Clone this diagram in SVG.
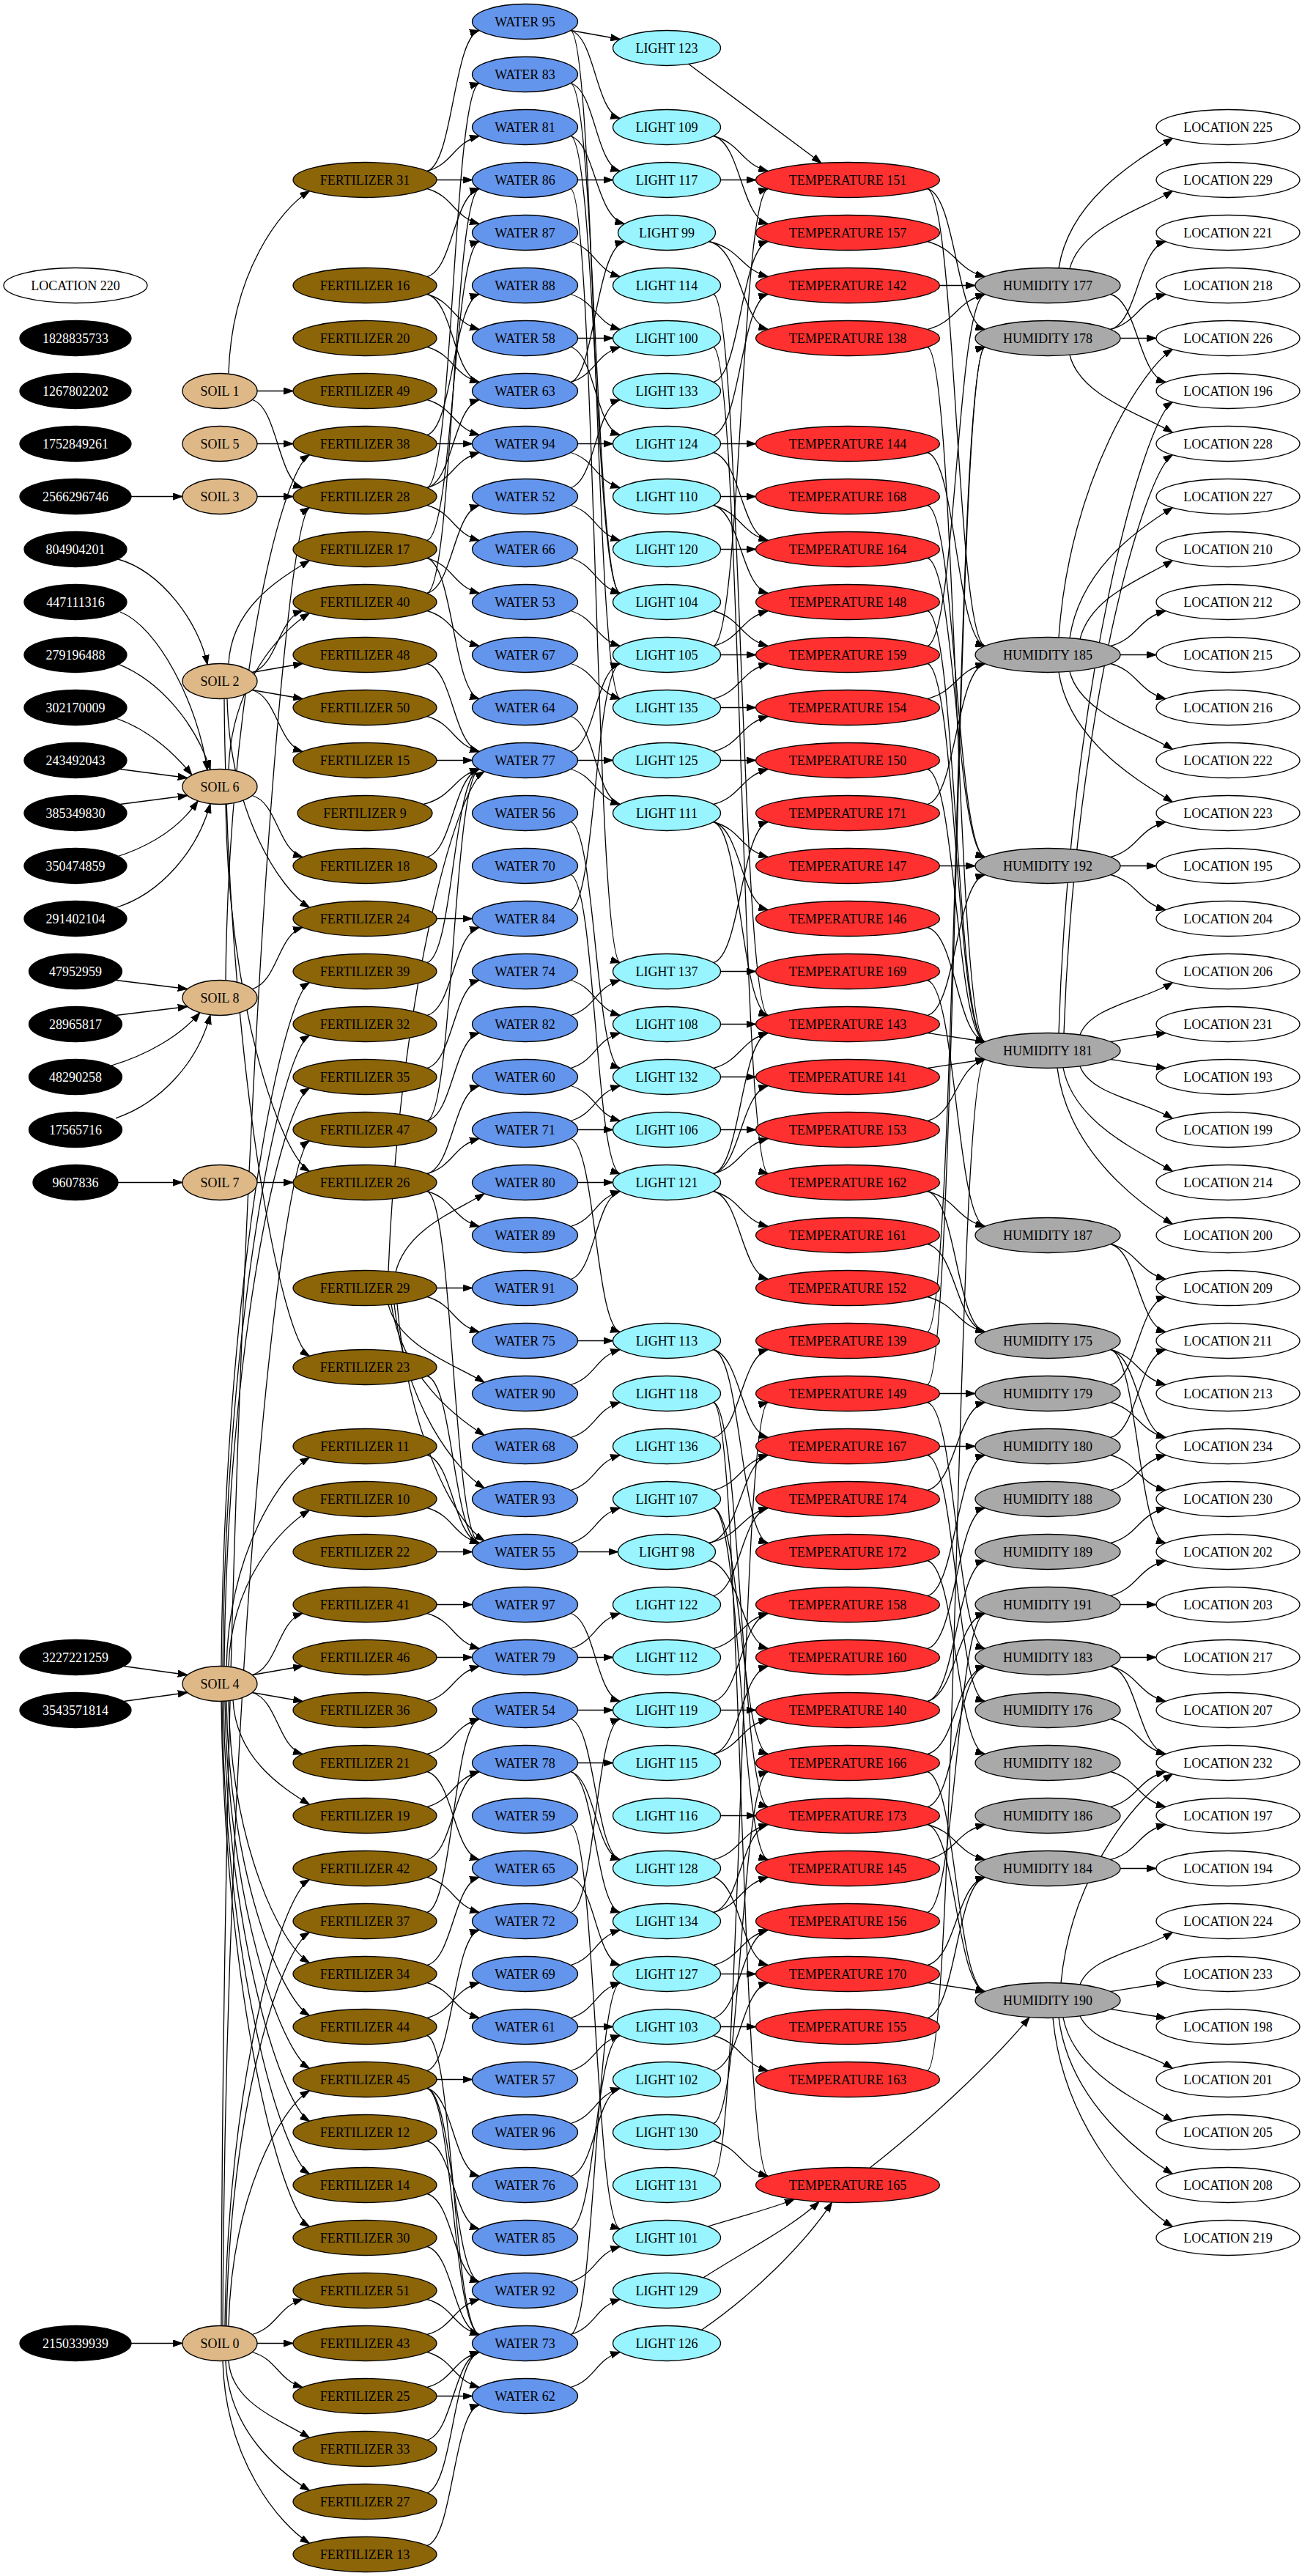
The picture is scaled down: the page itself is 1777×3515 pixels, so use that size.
<svg xmlns="http://www.w3.org/2000/svg" width="1777" height="3515" viewBox="0 0 1777 3515">
<style>
.n ellipse{stroke:#000;stroke-width:1.33}
text{font-family:"Liberation Serif","Times New Roman",serif;font-size:18px;text-anchor:middle;fill:#000}
.bk ellipse{fill:#000}.bk text{fill:#fff}
.lo ellipse{fill:#fff}
.so ellipse{fill:#deb887}
.fe ellipse{fill:#8b6508}
.wa ellipse{fill:#6495ed}
.li ellipse{fill:#98f5ff}
.te ellipse{fill:#ff3030}
.hu ellipse{fill:#a9a9a9}
#edges path{fill:none;stroke:#000;stroke-width:1.3;marker-end:url(#ah)}
</style>
<defs>
<marker id="ah" markerUnits="userSpaceOnUse" markerWidth="14" markerHeight="10" refX="13" refY="5" orient="auto" viewBox="0 0 14 10"><path d="M0,0.4L13,5L0,9.6z" fill="#000" stroke="#000" stroke-width="1"/></marker>
</defs>
<rect width="1777" height="3515" fill="#fff"/>
<g transform="translate(0,29.5)">
<g id="edges">
<path d="M179,648H249"/>
<path d="M161,733.5C220,750 272,820 283,877.4"/>
<path d="M164,805.5C215,825 270,930 283,1021.4"/>
<path d="M160.7,876.3C220,900 268,960 287,1020.8"/>
<path d="M158,950.5C200,965 235,995 262,1028"/>
<path d="M163.6,1020L255.8,1032"/>
<path d="M163.6,1068L255.8,1056"/>
<path d="M158,1140C205,1125 245,1100 270,1063.4"/>
<path d="M158,1209C220,1190 270,1130 287,1067.2"/>
<path d="M158,1308L255.8,1320"/>
<path d="M158,1356L255.8,1344"/>
<path d="M152,1424.5C200,1410 245,1385 272.7,1352.3"/>
<path d="M158,1496.3C220,1475 270,1420 287,1355.2"/>
<path d="M161,1584H249"/>
<path d="M168.8,2244L255.8,2256"/>
<path d="M168.8,2292L255.8,2280"/>
<path d="M179,3168H249"/>

<path d="M312,480C316,343 382.5,256 422.5,231"/>
<path d="M351,504H400"/>
<path d="M344.2,516C379,526 379,626 413.1,636"/>
<path d="M351,576H400"/>
<path d="M351,648H400"/>
<path d="M312,876C316,798 382.5,760 422.5,735"/>
<path d="M344.2,888C379,878 379,814 413.1,804"/>
<path d="M344.2,888L413.1,876"/>
<path d="M344.2,912L413.1,924"/>
<path d="M344.2,912C379,922 379,986 413.1,996"/>
<path d="M310,924C314,1081 382.5,1184 422.5,1209"/>
<path d="M306,924C310,1417 382.5,1796 422.5,1821"/>
<path d="M312,1020C316,903 382.5,832 422.5,807"/>
<path d="M344.2,1056C379,1066 379,1130 413.1,1140"/>
<path d="M308,1068C312,1344 382.5,1544 422.5,1569"/>
<path d="M344.2,1320C379,1310 379,1246 413.1,1236"/>
<path d="M308,1308C312,914 382.5,616 422.5,591"/>
<path d="M351,1584H400"/>
<path d="M302,2244C306,1731 382.5,1336 422.5,1311"/>
<path d="M304,2244C308,1770 382.5,1408 422.5,1383"/>
<path d="M306,2244C310,1810 382.5,1480 422.5,1455"/>
<path d="M309,2244C313,2087 382.5,1984 422.5,1959"/>
<path d="M312,2244C316,2127 382.5,2056 422.5,2031"/>
<path d="M344.2,2256C379,2246 379,2182 413.1,2172"/>
<path d="M344.2,2256L413.1,2244"/>
<path d="M344.2,2280L413.1,2292"/>
<path d="M344.2,2280C379,2290 379,2354 413.1,2364"/>
<path d="M318,2290C322,2369 382.5,2408 422.5,2433"/>
<path d="M312,2292C316,2488 382.5,2624 422.5,2649"/>
<path d="M309,2292C313,2528 382.5,2696 422.5,2721"/>
<path d="M307,2292C311,2568 382.5,2768 422.5,2793"/>
<path d="M305,2292C309,2607 382.5,2840 422.5,2865"/>
<path d="M303,2292C307,2647 382.5,2912 422.5,2937"/>
<path d="M302,2292C306,2686 382.5,2984 422.5,3009"/>
<path d="M302,3144C306,1779.5 382.5,688 422.5,663"/>
<path d="M304,3144C308,2255 382.5,1552 422.5,1527"/>
<path d="M307,3144C311,2809 382.5,2560 422.5,2535"/>
<path d="M309,3144C313,2849 382.5,2632 422.5,2607"/>
<path d="M312,3144C316,2967 382.5,2848 422.5,2823"/>
<path d="M344.2,3156C379,3146 379,3118 413.1,3108"/>
<path d="M351,3168H400"/>
<path d="M344.2,3180C379,3190 379,3218 413.1,3228"/>
<path d="M312,3192C316,3250 382.5,3272 422.5,3297"/>
<path d="M308,3192C312,3289 382.5,3344 422.5,3369"/>
<path d="M304,3192C308,3329 382.5,3416 422.5,3441"/>

<path d="M582.9,204C618.5,194 618.5,22 654.2,12"/>
<path d="M582.9,204C618.5,194 618.5,166 654.2,156"/>
<path d="M596,216H644.5"/>
<path d="M582.9,228C618.5,238 618.5,266 654.2,276"/>
<path d="M582.9,348C618.5,338 618.5,238 654.2,228"/>
<path d="M582.9,372C618.5,382 618.5,410 654.2,420"/>
<path d="M582.9,372C618.5,382 618.5,482 654.2,492"/>
<path d="M582.9,444C618.5,454 618.5,482 654.2,492"/>
<path d="M582.9,516C618.5,526 618.5,554 654.2,564"/>
<path d="M596,576H644.5"/>
<path d="M582.9,564C618.5,554 618.5,382 654.2,372"/>
<path d="M582.9,636C618.5,626 618.5,526 654.2,516"/>
<path d="M582.9,636C618.5,626 618.5,598 654.2,588"/>
<path d="M582.9,660C618.5,670 618.5,698 654.2,708"/>
<path d="M582.9,636C618.5,626 618.5,94 654.2,84"/>
<path d="M582.9,708C618.5,698 618.5,310 654.2,300"/>
<path d="M582.9,732C618.5,742 618.5,770 654.2,780"/>
<path d="M582.9,732C618.5,742 618.5,914 654.2,924"/>
<path d="M582.9,780C618.5,770 618.5,238 654.2,228"/>
<path d="M582.9,780C618.5,770 618.5,670 654.2,660"/>
<path d="M582.9,804C618.5,814 618.5,842 654.2,852"/>
<path d="M582.9,876C618.5,886 618.5,986 654.2,996"/>
<path d="M582.9,948C618.5,958 618.5,986 654.2,996"/>
<path d="M596,1008H644.5"/>
<path d="M577.7,1068C618.5,1058 618.5,1030 654.2,1020"/>
<path d="M582.9,1140C618.5,1130 618.5,1030 654.2,1020"/>
<path d="M596,1224H644.5"/>
<path d="M582.9,1284C618.5,1274 618.5,1030 654.2,1020"/>
<path d="M582.9,1356C618.5,1346 618.5,1246 654.2,1236"/>
<path d="M582.9,1428C618.5,1418 618.5,1318 654.2,1308"/>
<path d="M582.9,1500C618.5,1490 618.5,1390 654.2,1380"/>
<path d="M582.9,1500C618.5,1490 618.5,1030 654.2,1020"/>
<path d="M582.9,1572C618.5,1562 618.5,1462 654.2,1452"/>
<path d="M582.9,1572C618.5,1562 618.5,1534 654.2,1524"/>
<path d="M582.9,1596C618.5,1606 618.5,1634 654.2,1644"/>
<path d="M582.9,1596C618.5,1606 618.5,2066 654.2,2076"/>
<path d="M540,1706.3C555,1647 621,1624 661.1,1599"/>
<path d="M530,1705.3C545,1330 621,1048 661.1,1023"/>
<path d="M596,1728H644.5"/>
<path d="M582.9,1740C618.5,1750 618.5,1778 654.2,1788"/>
<path d="M530,1750.7C545,1809 621,1832 661.1,1857"/>
<path d="M534,1750.4C549,1848 621,1904 661.1,1929"/>
<path d="M538,1750C553,1888 621,1976 661.1,2001"/>
<path d="M542,1749.5C557,1927.5 621,2048 661.1,2073"/>
<path d="M582.9,1848C618.5,1858 618.5,2066 654.2,2076"/>
<path d="M582.9,1956C618.5,1966 618.5,2066 654.2,2076"/>
<path d="M582.9,2028C618.5,2038 618.5,2066 654.2,2076"/>
<path d="M596,2088H644.5"/>
<path d="M596,2160H644.5"/>
<path d="M582.9,2172C618.5,2182 618.5,2210 654.2,2220"/>
<path d="M596,2232H644.5"/>
<path d="M582.9,2292C618.5,2282 618.5,2254 654.2,2244"/>
<path d="M582.9,2364C618.5,2354 618.5,2326 654.2,2316"/>
<path d="M582.9,2388C618.5,2398 618.5,2498 654.2,2508"/>
<path d="M582.9,2436C618.5,2426 618.5,2398 654.2,2388"/>
<path d="M582.9,2508C618.5,2498 618.5,2398 654.2,2388"/>
<path d="M582.9,2532C618.5,2542 618.5,2570 654.2,2580"/>
<path d="M582.9,2580C618.5,2570 618.5,2326 654.2,2316"/>
<path d="M582.9,2676C618.5,2686 618.5,2714 654.2,2724"/>
<path d="M582.9,2652C618.5,2642 618.5,2542 654.2,2532"/>
<path d="M582.9,2724C618.5,2714 618.5,2686 654.2,2676"/>
<path d="M582.9,2748C618.5,2758 618.5,3146 654.2,3156"/>
<path d="M582.9,2796C618.5,2786 618.5,2614 654.2,2604"/>
<path d="M596,2808H644.5"/>
<path d="M582.9,2820C618.5,2830 618.5,2930 654.2,2940"/>
<path d="M582.9,2820C618.5,2830 618.5,3074 654.2,3084"/>
<path d="M582.9,2820C618.5,2830 618.5,3146 654.2,3156"/>
<path d="M582.9,2892C618.5,2902 618.5,3002 654.2,3012"/>
<path d="M582.9,2964C618.5,2974 618.5,3074 654.2,3084"/>
<path d="M582.9,3036C618.5,3046 618.5,3146 654.2,3156"/>
<path d="M582.9,3108C618.5,3118 618.5,3146 654.2,3156"/>
<path d="M582.9,3180C618.5,3190 618.5,3218 654.2,3228"/>
<path d="M582.9,3156C618.5,3146 618.5,3118 654.2,3108"/>
<path d="M596,3240H644.5"/>
<path d="M582.9,3228C618.5,3218 618.5,3190 654.2,3180"/>
<path d="M582.9,3300C618.5,3290 618.5,3190 654.2,3180"/>
<path d="M582.9,3372C618.5,3362 618.5,3190 654.2,3180"/>
<path d="M582.9,3444C618.5,3434 618.5,3262 654.2,3252"/>

<path d="M778.9,12L846.3,24"/>
<path d="M778.9,12C812.5,22 812.5,122 846.3,132"/>
<path d="M778.9,12C812.5,22 812.5,914 846.3,924"/>
<path d="M778.9,84C812.5,94 812.5,194 846.3,204"/>
<path d="M778.9,84C812.5,94 812.5,770 846.3,780"/>
<path d="M778.9,156C812.5,166 812.5,266 852.4,276"/>
<path d="M778.9,156C812.5,166 812.5,770 846.3,780"/>
<path d="M788.5,216H836.5"/>
<path d="M778.9,228C812.5,238 812.5,1274 846.3,1284"/>
<path d="M778.9,300C812.5,310 812.5,338 846.3,348"/>
<path d="M778.9,372C812.5,382 812.5,410 846.3,420"/>
<path d="M788.5,432H836.5"/>
<path d="M778.9,444C812.5,454 812.5,554 846.3,564"/>
<path d="M778.9,492C812.5,482 812.5,310 852.4,300"/>
<path d="M778.9,492C812.5,482 812.5,454 846.3,444"/>
<path d="M788.5,576H836.5"/>
<path d="M778.9,588C812.5,598 812.5,626 846.3,636"/>
<path d="M778.9,636C812.5,626 812.5,526 846.3,516"/>
<path d="M778.9,660C812.5,670 812.5,698 846.3,708"/>
<path d="M778.9,732C812.5,742 812.5,770 846.3,780"/>
<path d="M778.9,804C812.5,814 812.5,842 846.3,852"/>
<path d="M778.9,876C812.5,886 812.5,914 846.3,924"/>
<path d="M778.9,948C812.5,958 812.5,1058 846.3,1068"/>
<path d="M788.5,1008H836.5"/>
<path d="M778.9,1020C812.5,1030 812.5,1058 846.3,1068"/>
<path d="M778.9,996C812.5,986 812.5,886 846.3,876"/>
<path d="M778.9,1092C812.5,1102 812.5,1418 846.3,1428"/>
<path d="M778.9,1164C812.5,1174 812.5,1562 846.3,1572"/>
<path d="M778.9,1212C812.5,1202 812.5,886 846.3,876"/>
<path d="M778.9,1308C812.5,1318 812.5,1346 846.3,1356"/>
<path d="M778.9,1356C812.5,1346 812.5,1318 846.3,1308"/>
<path d="M778.9,1452C812.5,1462 812.5,1490 846.3,1500"/>
<path d="M778.9,1428C812.5,1418 812.5,1390 846.3,1380"/>
<path d="M788.5,1512H836.5"/>
<path d="M778.9,1500C812.5,1490 812.5,1462 846.3,1452"/>
<path d="M778.9,1524C812.5,1534 812.5,1778 846.3,1788"/>
<path d="M788.5,1584H836.5"/>
<path d="M778.9,1644C812.5,1634 812.5,1606 846.3,1596"/>
<path d="M778.9,1716C812.5,1706 812.5,1606 846.3,1596"/>
<path d="M788.5,1800H836.5"/>
<path d="M778.9,1860C812.5,1850 812.5,1822 846.3,1812"/>
<path d="M778.9,1932C812.5,1922 812.5,1894 846.3,1884"/>
<path d="M778.9,2004C812.5,1994 812.5,1966 846.3,1956"/>
<path d="M788.5,2088H843.5"/>
<path d="M778.9,2076C812.5,2066 812.5,2038 846.3,2028"/>
<path d="M778.9,2172C812.5,2182 812.5,2282 846.3,2292"/>
<path d="M788.5,2232H836.5"/>
<path d="M778.9,2220C812.5,2210 812.5,2182 846.3,2172"/>
<path d="M788.5,2304H836.5"/>
<path d="M778.9,2316C812.5,2326 812.5,2498 846.3,2508"/>
<path d="M788.5,2376H836.5"/>
<path d="M778.9,2388C812.5,2398 812.5,2498 846.3,2508"/>
<path d="M778.9,2388C812.5,2398 812.5,2570 846.3,2580"/>
<path d="M778.9,2460C812.5,2470 812.5,3002 846.3,3012"/>
<path d="M778.9,2532C812.5,2542 812.5,2642 846.3,2652"/>
<path d="M778.9,2580C812.5,2570 812.5,2326 846.3,2316"/>
<path d="M778.9,2652C812.5,2642 812.5,2614 846.3,2604"/>
<path d="M788.5,2736H836.5"/>
<path d="M778.9,2724C812.5,2714 812.5,2686 846.3,2676"/>
<path d="M778.9,2796C812.5,2786 812.5,2758 846.3,2748"/>
<path d="M778.9,2868C812.5,2858 812.5,2830 846.3,2820"/>
<path d="M778.9,2940C812.5,2930 812.5,2830 846.3,2820"/>
<path d="M778.9,3012C812.5,3002 812.5,2758 846.3,2748"/>
<path d="M778.9,3084C812.5,3074 812.5,3046 846.3,3036"/>
<path d="M778.9,3156C812.5,3146 812.5,3118 846.3,3108"/>
<path d="M778.9,3156C812.5,3146 812.5,2686 846.3,2676"/>
<path d="M778.9,3228C812.5,3218 812.5,3190 846.3,3180"/>

<path d="M940,57.9L1121,193"/>
<path d="M973.7,156C1011,166 1011,194 1048.3,204"/>
<path d="M973.7,156C1011,166 1011,266 1048.3,276"/>
<path d="M983.5,216H1031.5"/>
<path d="M967.6,300C1011,310 1011,338 1048.3,348"/>
<path d="M967.6,300C1011,310 1011,410 1048.3,420"/>
<path d="M973.7,372C1011,382 1011,1346 1048.3,1356"/>
<path d="M973.7,444C1011,454 1011,1562 1048.3,1572"/>
<path d="M973.7,492C1011,482 1011,310 1048.3,300"/>
<path d="M983.5,576H1031.5"/>
<path d="M973.7,564C1011,554 1011,382 1048.3,372"/>
<path d="M973.7,588C1011,598 1011,698 1048.3,708"/>
<path d="M983.5,648H1031.5"/>
<path d="M973.7,660C1011,670 1011,698 1048.3,708"/>
<path d="M973.7,660C1011,670 1011,770 1048.3,780"/>
<path d="M983.5,720H1031.5"/>
<path d="M973.7,804C1011,814 1011,842 1048.3,852"/>
<path d="M983.5,864H1031.5"/>
<path d="M973.7,852C1011,842 1011,814 1048.3,804"/>
<path d="M973.7,852C1011,842 1011,238 1048.3,228"/>
<path d="M983.5,936H1031.5"/>
<path d="M973.7,924C1011,914 1011,886 1048.3,876"/>
<path d="M983.5,1008H1031.5"/>
<path d="M973.7,996C1011,986 1011,958 1048.3,948"/>
<path d="M973.7,1068C1011,1058 1011,1030 1048.3,1020"/>
<path d="M973.7,1092C1011,1102 1011,1130 1048.3,1140"/>
<path d="M973.7,1092C1011,1102 1011,1202 1048.3,1212"/>
<path d="M973.7,1092C1011,1102 1011,1346 1048.3,1356"/>
<path d="M983.5,1296H1031.5"/>
<path d="M973.7,1284C1011,1274 1011,1102 1048.3,1092"/>
<path d="M983.5,1368H1031.5"/>
<path d="M983.5,1440H1031.5"/>
<path d="M973.7,1428C1011,1418 1011,1390 1048.3,1380"/>
<path d="M983.5,1512H1031.5"/>
<path d="M973.7,1572C1011,1562 1011,1534 1048.3,1524"/>
<path d="M973.7,1596C1011,1606 1011,1634 1048.3,1644"/>
<path d="M973.7,1596C1011,1606 1011,1706 1048.3,1716"/>
<path d="M973.7,1572C1011,1562 1011,1462 1048.3,1452"/>
<path d="M973.7,1572C1011,1562 1011,1390 1048.3,1380"/>
<path d="M973.7,1812C1011,1822 1011,1922 1048.3,1932"/>
<path d="M973.7,1812C1011,1822 1011,2066 1048.3,2076"/>
<path d="M973.7,1884C1011,1894 1011,2426 1048.3,2436"/>
<path d="M973.7,1884C1011,1894 1011,2930 1048.3,2940"/>
<path d="M973.7,1932C1011,1922 1011,1822 1048.3,1812"/>
<path d="M973.7,2004C1011,1994 1011,1966 1048.3,1956"/>
<path d="M973.7,2028C1011,2038 1011,2354 1048.3,2364"/>
<path d="M973.7,2028C1011,2038 1011,2498 1048.3,2508"/>
<path d="M967.6,2076C1011,2066 1011,1966 1048.3,1956"/>
<path d="M967.6,2076C1011,2066 1011,2038 1048.3,2028"/>
<path d="M967.6,2100C1011,2110 1011,2210 1048.3,2220"/>
<path d="M973.7,2148C1011,2138 1011,2038 1048.3,2028"/>
<path d="M973.7,2220C1011,2210 1011,2182 1048.3,2172"/>
<path d="M983.5,2304H1031.5"/>
<path d="M973.7,2292C1011,2282 1011,2182 1048.3,2172"/>
<path d="M973.7,2364C1011,2354 1011,2326 1048.3,2316"/>
<path d="M973.7,2364C1011,2354 1011,2254 1048.3,2244"/>
<path d="M983.5,2448H1031.5"/>
<path d="M973.7,2508C1011,2498 1011,2470 1048.3,2460"/>
<path d="M973.7,2532C1011,2542 1011,2642 1048.3,2652"/>
<path d="M973.7,2580C1011,2570 1011,2542 1048.3,2532"/>
<path d="M973.7,2580C1011,2570 1011,2470 1048.3,2460"/>
<path d="M983.5,2664H1031.5"/>
<path d="M973.7,2652C1011,2642 1011,2614 1048.3,2604"/>
<path d="M983.5,2736H1031.5"/>
<path d="M973.7,2748C1011,2758 1011,2786 1048.3,2796"/>
<path d="M973.7,2724C1011,2714 1011,2614 1048.3,2604"/>
<path d="M973.7,2796C1011,2786 1011,2686 1048.3,2676"/>
<path d="M973.7,2892C1011,2902 1011,2930 1048.3,2940"/>
<path d="M973.7,2868C1011,2858 1011,2398 1048.3,2388"/>
<path d="M973.7,2940C1011,2930 1011,1894 1048.3,1884"/>
<path d="M966,3008.5C1010,2995 1050,2985 1084,2971.5"/>
<path d="M960,3078.4C1020,3040 1080,3010 1118,2974.8"/>
<path d="M957.5,3149.7C1030,3100 1100,3030 1135.5,2975.6"/>

<path d="M1265.7,228C1305,238 1305,410 1344.3,420"/>
<path d="M1265.7,228C1305,238 1305,842 1344.3,852"/>
<path d="M1265.7,300C1305,310 1305,338 1344.3,348"/>
<path d="M1282.5,360H1331"/>
<path d="M1265.7,420C1305,410 1305,382 1344.3,372"/>
<path d="M1265.7,444C1305,454 1305,1382 1344.3,1392"/>
<path d="M1265.7,588C1305,598 1305,842 1344.3,852"/>
<path d="M1265.7,660C1305,670 1305,1130 1344.3,1140"/>
<path d="M1265.7,732C1305,742 1305,1130 1344.3,1140"/>
<path d="M1265.7,804C1305,814 1305,1382 1344.3,1392"/>
<path d="M1265.7,852C1305,842 1305,382 1344.3,372"/>
<path d="M1265.7,876C1305,886 1305,1382 1344.3,1392"/>
<path d="M1265.7,924C1305,914 1305,886 1344.3,876"/>
<path d="M1265.7,1020C1305,1030 1305,1382 1344.3,1392"/>
<path d="M1265.7,1068C1305,1058 1305,886 1344.3,876"/>
<path d="M1282.5,1152H1331"/>
<path d="M1265.7,1236C1305,1246 1305,1382 1344.3,1392"/>
<path d="M1265.7,1308C1305,1318 1305,1634 1344.3,1644"/>
<path d="M1265.7,1356C1305,1346 1305,1174 1344.3,1164"/>
<path d="M1265.7,1380L1344.3,1392"/>
<path d="M1265.7,1428L1344.3,1416"/>
<path d="M1265.7,1500C1305,1490 1305,1426 1344.3,1416"/>
<path d="M1265.7,2796C1305,2786 1305,1426 1344.3,1416"/>
<path d="M1265.7,1596C1305,1606 1305,1634 1344.3,1644"/>
<path d="M1265.7,1596C1305,1606 1305,1778 1344.3,1788"/>
<path d="M1265.7,1668C1305,1678 1305,1778 1344.3,1788"/>
<path d="M1265.7,1740C1305,1750 1305,1778 1344.3,1788"/>
<path d="M1265.7,1788C1305,1778 1305,454 1344.3,444"/>
<path d="M1282.5,1872H1331"/>
<path d="M1265.7,1860C1305,1850 1305,454 1344.3,444"/>
<path d="M1265.7,1884C1305,1894 1305,2210 1344.3,2220"/>
<path d="M1282.5,1944H1331"/>
<path d="M1265.7,1956C1305,1966 1305,2282 1344.3,2292"/>
<path d="M1265.7,2004C1305,1994 1305,1894 1344.3,1884"/>
<path d="M1265.7,2100C1305,2110 1305,2354 1344.3,2364"/>
<path d="M1265.7,2148C1305,2138 1305,1966 1344.3,1956"/>
<path d="M1265.7,2220C1305,2210 1305,2038 1344.3,2028"/>
<path d="M1265.7,2292C1305,2282 1305,2110 1344.3,2100"/>
<path d="M1265.7,2292C1305,2282 1305,2182 1344.3,2172"/>
<path d="M1265.7,2364C1305,2354 1305,2254 1344.3,2244"/>
<path d="M1265.7,2388C1305,2398 1305,2678 1344.3,2688"/>
<path d="M1265.7,2460C1305,2470 1305,2498 1344.3,2508"/>
<path d="M1265.7,2436C1305,2426 1305,2254 1344.3,2244"/>
<path d="M1265.7,2460C1305,2470 1305,2678 1344.3,2688"/>
<path d="M1265.7,2508C1305,2498 1305,2470 1344.3,2460"/>
<path d="M1265.7,2580C1305,2570 1305,2182 1344.3,2172"/>
<path d="M1265.7,2676L1344.3,2688"/>
<path d="M1265.7,2652C1305,2642 1305,2542 1344.3,2532"/>
<path d="M1265.7,2724C1305,2714 1305,2542 1344.3,2532"/>
<path d="M1187,2928.7C1250,2880 1350,2790 1405,2723.2"/>

<path d="M1445,336.3C1460,239 1560.5,184 1600.5,159"/>
<path d="M1460,337C1475,279 1560.5,256 1600.5,231"/>
<path d="M1515.7,372C1553,382 1553,482 1591.1,492"/>
<path d="M1515.7,420C1553,410 1553,310 1591.1,300"/>
<path d="M1515.7,420C1553,410 1553,382 1591.1,372"/>
<path d="M1529,432H1578"/>
<path d="M1460,455C1475,513 1560.5,536 1600.5,561"/>
<path d="M1445,840.3C1460,624 1560.5,472 1600.5,447"/>
<path d="M1460,841C1475,743 1560.5,688 1600.5,663"/>
<path d="M1474,842.5C1489,783.5 1560.5,760 1600.5,735"/>
<path d="M1515.7,852C1553,842 1553,814 1591.1,804"/>
<path d="M1529,864H1578"/>
<path d="M1515.7,876C1553,886 1553,914 1591.1,924"/>
<path d="M1460,887C1475,945 1560.5,968 1600.5,993"/>
<path d="M1445,887.7C1460,985 1560.5,1040 1600.5,1065"/>
<path d="M1515.7,1140C1553,1130 1553,1102 1591.1,1092"/>
<path d="M1529,1152H1578"/>
<path d="M1515.7,1164C1553,1174 1553,1202 1591.1,1212"/>
<path d="M1445,1380.3C1460,906 1560.5,544 1600.5,519"/>
<path d="M1452,1380.6C1467,946 1560.5,616 1600.5,591"/>
<path d="M1474,1382.5C1489,1343 1560.5,1336 1600.5,1311"/>
<path d="M1515.7,1392L1591.1,1380"/>
<path d="M1515.7,1416L1591.1,1428"/>
<path d="M1474,1425.5C1489,1465 1560.5,1472 1600.5,1497"/>
<path d="M1451,1427.5C1466,1505 1560.5,1544 1600.5,1569"/>
<path d="M1443,1427.8C1458,1545 1560.5,1616 1600.5,1641"/>
<path d="M1515.7,1668C1553,1678 1553,1706 1591.1,1716"/>
<path d="M1515.7,1668C1553,1678 1553,1778 1591.1,1788"/>
<path d="M1515.7,1812C1553,1822 1553,1850 1591.1,1860"/>
<path d="M1515.7,1812C1553,1822 1553,1922 1591.1,1932"/>
<path d="M1515.7,1812C1553,1822 1553,2066 1591.1,2076"/>
<path d="M1515.7,1860C1553,1850 1553,1750 1591.1,1740"/>
<path d="M1515.7,1884C1553,1894 1553,1922 1591.1,1932"/>
<path d="M1515.7,1932C1553,1922 1553,1822 1591.1,1812"/>
<path d="M1515.7,1956C1553,1966 1553,1994 1591.1,2004"/>
<path d="M1515.7,2004C1553,1994 1553,1966 1591.1,1956"/>
<path d="M1515.7,2076C1553,2066 1553,2038 1591.1,2028"/>
<path d="M1529,2160H1578"/>
<path d="M1515.7,2148C1553,2138 1553,2110 1591.1,2100"/>
<path d="M1529,2232H1578"/>
<path d="M1515.7,2244C1553,2254 1553,2282 1591.1,2292"/>
<path d="M1515.7,2244C1553,2254 1553,2354 1591.1,2364"/>
<path d="M1515.7,2316C1553,2326 1553,2354 1591.1,2364"/>
<path d="M1515.7,2388C1553,2398 1553,2426 1591.1,2436"/>
<path d="M1515.7,2436C1553,2426 1553,2398 1591.1,2388"/>
<path d="M1529,2520H1578"/>
<path d="M1515.7,2508C1553,2498 1553,2470 1591.1,2460"/>
<path d="M1448,2676.4C1463,2519 1560.5,2416 1600.5,2391"/>
<path d="M1474,2678.5C1489,2639 1560.5,2632 1600.5,2607"/>
<path d="M1515.7,2688L1591.1,2676"/>
<path d="M1515.7,2712L1591.1,2724"/>
<path d="M1474,2721.5C1493,2761 1560.5,2768 1600.5,2793"/>
<path d="M1451,2723.5C1466,2801 1560.5,2840 1600.5,2865"/>
<path d="M1445,2723.7C1460,2841 1560.5,2912 1600.5,2937"/>
<path d="M1437,2724C1452,2881 1560.5,2984 1600.5,3009"/>
</g>

<g id="col-source">
<g id="location220" class="n lo"><ellipse cx="103" cy="360" rx="98" ry="24"/><text x="103" y="366">LOCATION 220</text></g>
<g id="n1828835733" class="n bk"><ellipse cx="103" cy="432" rx="76" ry="24"/><text x="103" y="438">1828835733</text></g>
<g id="n1267802202" class="n bk"><ellipse cx="103" cy="504" rx="76" ry="24"/><text x="103" y="510">1267802202</text></g>
<g id="n1752849261" class="n bk"><ellipse cx="103" cy="576" rx="76" ry="24"/><text x="103" y="582">1752849261</text></g>
<g id="n2566296746" class="n bk"><ellipse cx="103" cy="648" rx="76" ry="24"/><text x="103" y="654">2566296746</text></g>
<g id="n804904201" class="n bk"><ellipse cx="103" cy="720" rx="70" ry="24"/><text x="103" y="726">804904201</text></g>
<g id="n447111316" class="n bk"><ellipse cx="103" cy="792" rx="70" ry="24"/><text x="103" y="798">447111316</text></g>
<g id="n279196488" class="n bk"><ellipse cx="103" cy="864" rx="70" ry="24"/><text x="103" y="870">279196488</text></g>
<g id="n302170009" class="n bk"><ellipse cx="103" cy="936" rx="70" ry="24"/><text x="103" y="942">302170009</text></g>
<g id="n243492043" class="n bk"><ellipse cx="103" cy="1008" rx="70" ry="24"/><text x="103" y="1014">243492043</text></g>
<g id="n385349830" class="n bk"><ellipse cx="103" cy="1080" rx="70" ry="24"/><text x="103" y="1086">385349830</text></g>
<g id="n350474859" class="n bk"><ellipse cx="103" cy="1152" rx="70" ry="24"/><text x="103" y="1158">350474859</text></g>
<g id="n291402104" class="n bk"><ellipse cx="103" cy="1224" rx="70" ry="24"/><text x="103" y="1230">291402104</text></g>
<g id="n47952959" class="n bk"><ellipse cx="103" cy="1296" rx="63.5" ry="24"/><text x="103" y="1302">47952959</text></g>
<g id="n28965817" class="n bk"><ellipse cx="103" cy="1368" rx="63.5" ry="24"/><text x="103" y="1374">28965817</text></g>
<g id="n48290258" class="n bk"><ellipse cx="103" cy="1440" rx="63.5" ry="24"/><text x="103" y="1446">48290258</text></g>
<g id="n17565716" class="n bk"><ellipse cx="103" cy="1512" rx="63.5" ry="24"/><text x="103" y="1518">17565716</text></g>
<g id="n9607836" class="n bk"><ellipse cx="103" cy="1584" rx="58" ry="24"/><text x="103" y="1590">9607836</text></g>
<g id="n3227221259" class="n bk"><ellipse cx="103" cy="2232" rx="76" ry="24"/><text x="103" y="2238">3227221259</text></g>
<g id="n3543571814" class="n bk"><ellipse cx="103" cy="2304" rx="76" ry="24"/><text x="103" y="2310">3543571814</text></g>
<g id="n2150339939" class="n bk"><ellipse cx="103" cy="3168" rx="76" ry="24"/><text x="103" y="3174">2150339939</text></g>
</g>

<g id="col-soil">
<g id="soil1" class="n so"><ellipse cx="300" cy="504" rx="51" ry="24"/><text x="300" y="510">SOIL 1</text></g>
<g id="soil5" class="n so"><ellipse cx="300" cy="576" rx="51" ry="24"/><text x="300" y="582">SOIL 5</text></g>
<g id="soil3" class="n so"><ellipse cx="300" cy="648" rx="51" ry="24"/><text x="300" y="654">SOIL 3</text></g>
<g id="soil2" class="n so"><ellipse cx="300" cy="900" rx="51" ry="24"/><text x="300" y="906">SOIL 2</text></g>
<g id="soil6" class="n so"><ellipse cx="300" cy="1044" rx="51" ry="24"/><text x="300" y="1050">SOIL 6</text></g>
<g id="soil8" class="n so"><ellipse cx="300" cy="1332" rx="51" ry="24"/><text x="300" y="1338">SOIL 8</text></g>
<g id="soil7" class="n so"><ellipse cx="300" cy="1584" rx="51" ry="24"/><text x="300" y="1590">SOIL 7</text></g>
<g id="soil4" class="n so"><ellipse cx="300" cy="2268" rx="51" ry="24"/><text x="300" y="2274">SOIL 4</text></g>
<g id="soil0" class="n so"><ellipse cx="300" cy="3168" rx="51" ry="24"/><text x="300" y="3174">SOIL 0</text></g>
</g>

<g id="col-fertilizer">
<g id="fert31" class="n fe"><ellipse cx="498" cy="216" rx="98" ry="24"/><text x="498" y="222">FERTILIZER 31</text></g>
<g id="fert16" class="n fe"><ellipse cx="498" cy="360" rx="98" ry="24"/><text x="498" y="366">FERTILIZER 16</text></g>
<g id="fert20" class="n fe"><ellipse cx="498" cy="432" rx="98" ry="24"/><text x="498" y="438">FERTILIZER 20</text></g>
<g id="fert49" class="n fe"><ellipse cx="498" cy="504" rx="98" ry="24"/><text x="498" y="510">FERTILIZER 49</text></g>
<g id="fert38" class="n fe"><ellipse cx="498" cy="576" rx="98" ry="24"/><text x="498" y="582">FERTILIZER 38</text></g>
<g id="fert28" class="n fe"><ellipse cx="498" cy="648" rx="98" ry="24"/><text x="498" y="654">FERTILIZER 28</text></g>
<g id="fert17" class="n fe"><ellipse cx="498" cy="720" rx="98" ry="24"/><text x="498" y="726">FERTILIZER 17</text></g>
<g id="fert40" class="n fe"><ellipse cx="498" cy="792" rx="98" ry="24"/><text x="498" y="798">FERTILIZER 40</text></g>
<g id="fert48" class="n fe"><ellipse cx="498" cy="864" rx="98" ry="24"/><text x="498" y="870">FERTILIZER 48</text></g>
<g id="fert50" class="n fe"><ellipse cx="498" cy="936" rx="98" ry="24"/><text x="498" y="942">FERTILIZER 50</text></g>
<g id="fert15" class="n fe"><ellipse cx="498" cy="1008" rx="98" ry="24"/><text x="498" y="1014">FERTILIZER 15</text></g>
<g id="fert9" class="n fe"><ellipse cx="498" cy="1080" rx="92" ry="24"/><text x="498" y="1086">FERTILIZER 9</text></g>
<g id="fert18" class="n fe"><ellipse cx="498" cy="1152" rx="98" ry="24"/><text x="498" y="1158">FERTILIZER 18</text></g>
<g id="fert24" class="n fe"><ellipse cx="498" cy="1224" rx="98" ry="24"/><text x="498" y="1230">FERTILIZER 24</text></g>
<g id="fert39" class="n fe"><ellipse cx="498" cy="1296" rx="98" ry="24"/><text x="498" y="1302">FERTILIZER 39</text></g>
<g id="fert32" class="n fe"><ellipse cx="498" cy="1368" rx="98" ry="24"/><text x="498" y="1374">FERTILIZER 32</text></g>
<g id="fert35" class="n fe"><ellipse cx="498" cy="1440" rx="98" ry="24"/><text x="498" y="1446">FERTILIZER 35</text></g>
<g id="fert47" class="n fe"><ellipse cx="498" cy="1512" rx="98" ry="24"/><text x="498" y="1518">FERTILIZER 47</text></g>
<g id="fert26" class="n fe"><ellipse cx="498" cy="1584" rx="98" ry="24"/><text x="498" y="1590">FERTILIZER 26</text></g>
<g id="fert29" class="n fe"><ellipse cx="498" cy="1728" rx="98" ry="24"/><text x="498" y="1734">FERTILIZER 29</text></g>
<g id="fert23" class="n fe"><ellipse cx="498" cy="1836" rx="98" ry="24"/><text x="498" y="1842">FERTILIZER 23</text></g>
<g id="fert11" class="n fe"><ellipse cx="498" cy="1944" rx="98" ry="24"/><text x="498" y="1950">FERTILIZER 11</text></g>
<g id="fert10" class="n fe"><ellipse cx="498" cy="2016" rx="98" ry="24"/><text x="498" y="2022">FERTILIZER 10</text></g>
<g id="fert22" class="n fe"><ellipse cx="498" cy="2088" rx="98" ry="24"/><text x="498" y="2094">FERTILIZER 22</text></g>
<g id="fert41" class="n fe"><ellipse cx="498" cy="2160" rx="98" ry="24"/><text x="498" y="2166">FERTILIZER 41</text></g>
<g id="fert46" class="n fe"><ellipse cx="498" cy="2232" rx="98" ry="24"/><text x="498" y="2238">FERTILIZER 46</text></g>
<g id="fert36" class="n fe"><ellipse cx="498" cy="2304" rx="98" ry="24"/><text x="498" y="2310">FERTILIZER 36</text></g>
<g id="fert21" class="n fe"><ellipse cx="498" cy="2376" rx="98" ry="24"/><text x="498" y="2382">FERTILIZER 21</text></g>
<g id="fert19" class="n fe"><ellipse cx="498" cy="2448" rx="98" ry="24"/><text x="498" y="2454">FERTILIZER 19</text></g>
<g id="fert42" class="n fe"><ellipse cx="498" cy="2520" rx="98" ry="24"/><text x="498" y="2526">FERTILIZER 42</text></g>
<g id="fert37" class="n fe"><ellipse cx="498" cy="2592" rx="98" ry="24"/><text x="498" y="2598">FERTILIZER 37</text></g>
<g id="fert34" class="n fe"><ellipse cx="498" cy="2664" rx="98" ry="24"/><text x="498" y="2670">FERTILIZER 34</text></g>
<g id="fert44" class="n fe"><ellipse cx="498" cy="2736" rx="98" ry="24"/><text x="498" y="2742">FERTILIZER 44</text></g>
<g id="fert45" class="n fe"><ellipse cx="498" cy="2808" rx="98" ry="24"/><text x="498" y="2814">FERTILIZER 45</text></g>
<g id="fert12" class="n fe"><ellipse cx="498" cy="2880" rx="98" ry="24"/><text x="498" y="2886">FERTILIZER 12</text></g>
<g id="fert14" class="n fe"><ellipse cx="498" cy="2952" rx="98" ry="24"/><text x="498" y="2958">FERTILIZER 14</text></g>
<g id="fert30" class="n fe"><ellipse cx="498" cy="3024" rx="98" ry="24"/><text x="498" y="3030">FERTILIZER 30</text></g>
<g id="fert51" class="n fe"><ellipse cx="498" cy="3096" rx="98" ry="24"/><text x="498" y="3102">FERTILIZER 51</text></g>
<g id="fert43" class="n fe"><ellipse cx="498" cy="3168" rx="98" ry="24"/><text x="498" y="3174">FERTILIZER 43</text></g>
<g id="fert25" class="n fe"><ellipse cx="498" cy="3240" rx="98" ry="24"/><text x="498" y="3246">FERTILIZER 25</text></g>
<g id="fert33" class="n fe"><ellipse cx="498" cy="3312" rx="98" ry="24"/><text x="498" y="3318">FERTILIZER 33</text></g>
<g id="fert27" class="n fe"><ellipse cx="498" cy="3384" rx="98" ry="24"/><text x="498" y="3390">FERTILIZER 27</text></g>
<g id="fert13" class="n fe"><ellipse cx="498" cy="3456" rx="98" ry="24"/><text x="498" y="3462">FERTILIZER 13</text></g>
</g>

<g id="col-water">
<g id="water95" class="n wa"><ellipse cx="716.5" cy="0" rx="72" ry="24"/><text x="716.5" y="6">WATER 95</text></g>
<g id="water83" class="n wa"><ellipse cx="716.5" cy="72" rx="72" ry="24"/><text x="716.5" y="78">WATER 83</text></g>
<g id="water81" class="n wa"><ellipse cx="716.5" cy="144" rx="72" ry="24"/><text x="716.5" y="150">WATER 81</text></g>
<g id="water86" class="n wa"><ellipse cx="716.5" cy="216" rx="72" ry="24"/><text x="716.5" y="222">WATER 86</text></g>
<g id="water87" class="n wa"><ellipse cx="716.5" cy="288" rx="72" ry="24"/><text x="716.5" y="294">WATER 87</text></g>
<g id="water88" class="n wa"><ellipse cx="716.5" cy="360" rx="72" ry="24"/><text x="716.5" y="366">WATER 88</text></g>
<g id="water58" class="n wa"><ellipse cx="716.5" cy="432" rx="72" ry="24"/><text x="716.5" y="438">WATER 58</text></g>
<g id="water63" class="n wa"><ellipse cx="716.5" cy="504" rx="72" ry="24"/><text x="716.5" y="510">WATER 63</text></g>
<g id="water94" class="n wa"><ellipse cx="716.5" cy="576" rx="72" ry="24"/><text x="716.5" y="582">WATER 94</text></g>
<g id="water52" class="n wa"><ellipse cx="716.5" cy="648" rx="72" ry="24"/><text x="716.5" y="654">WATER 52</text></g>
<g id="water66" class="n wa"><ellipse cx="716.5" cy="720" rx="72" ry="24"/><text x="716.5" y="726">WATER 66</text></g>
<g id="water53" class="n wa"><ellipse cx="716.5" cy="792" rx="72" ry="24"/><text x="716.5" y="798">WATER 53</text></g>
<g id="water67" class="n wa"><ellipse cx="716.5" cy="864" rx="72" ry="24"/><text x="716.5" y="870">WATER 67</text></g>
<g id="water64" class="n wa"><ellipse cx="716.5" cy="936" rx="72" ry="24"/><text x="716.5" y="942">WATER 64</text></g>
<g id="water77" class="n wa"><ellipse cx="716.5" cy="1008" rx="72" ry="24"/><text x="716.5" y="1014">WATER 77</text></g>
<g id="water56" class="n wa"><ellipse cx="716.5" cy="1080" rx="72" ry="24"/><text x="716.5" y="1086">WATER 56</text></g>
<g id="water70" class="n wa"><ellipse cx="716.5" cy="1152" rx="72" ry="24"/><text x="716.5" y="1158">WATER 70</text></g>
<g id="water84" class="n wa"><ellipse cx="716.5" cy="1224" rx="72" ry="24"/><text x="716.5" y="1230">WATER 84</text></g>
<g id="water74" class="n wa"><ellipse cx="716.5" cy="1296" rx="72" ry="24"/><text x="716.5" y="1302">WATER 74</text></g>
<g id="water82" class="n wa"><ellipse cx="716.5" cy="1368" rx="72" ry="24"/><text x="716.5" y="1374">WATER 82</text></g>
<g id="water60" class="n wa"><ellipse cx="716.5" cy="1440" rx="72" ry="24"/><text x="716.5" y="1446">WATER 60</text></g>
<g id="water71" class="n wa"><ellipse cx="716.5" cy="1512" rx="72" ry="24"/><text x="716.5" y="1518">WATER 71</text></g>
<g id="water80" class="n wa"><ellipse cx="716.5" cy="1584" rx="72" ry="24"/><text x="716.5" y="1590">WATER 80</text></g>
<g id="water89" class="n wa"><ellipse cx="716.5" cy="1656" rx="72" ry="24"/><text x="716.5" y="1662">WATER 89</text></g>
<g id="water91" class="n wa"><ellipse cx="716.5" cy="1728" rx="72" ry="24"/><text x="716.5" y="1734">WATER 91</text></g>
<g id="water75" class="n wa"><ellipse cx="716.5" cy="1800" rx="72" ry="24"/><text x="716.5" y="1806">WATER 75</text></g>
<g id="water90" class="n wa"><ellipse cx="716.5" cy="1872" rx="72" ry="24"/><text x="716.5" y="1878">WATER 90</text></g>
<g id="water68" class="n wa"><ellipse cx="716.5" cy="1944" rx="72" ry="24"/><text x="716.5" y="1950">WATER 68</text></g>
<g id="water93" class="n wa"><ellipse cx="716.5" cy="2016" rx="72" ry="24"/><text x="716.5" y="2022">WATER 93</text></g>
<g id="water55" class="n wa"><ellipse cx="716.5" cy="2088" rx="72" ry="24"/><text x="716.5" y="2094">WATER 55</text></g>
<g id="water97" class="n wa"><ellipse cx="716.5" cy="2160" rx="72" ry="24"/><text x="716.5" y="2166">WATER 97</text></g>
<g id="water79" class="n wa"><ellipse cx="716.5" cy="2232" rx="72" ry="24"/><text x="716.5" y="2238">WATER 79</text></g>
<g id="water54" class="n wa"><ellipse cx="716.5" cy="2304" rx="72" ry="24"/><text x="716.5" y="2310">WATER 54</text></g>
<g id="water78" class="n wa"><ellipse cx="716.5" cy="2376" rx="72" ry="24"/><text x="716.5" y="2382">WATER 78</text></g>
<g id="water59" class="n wa"><ellipse cx="716.5" cy="2448" rx="72" ry="24"/><text x="716.5" y="2454">WATER 59</text></g>
<g id="water65" class="n wa"><ellipse cx="716.5" cy="2520" rx="72" ry="24"/><text x="716.5" y="2526">WATER 65</text></g>
<g id="water72" class="n wa"><ellipse cx="716.5" cy="2592" rx="72" ry="24"/><text x="716.5" y="2598">WATER 72</text></g>
<g id="water69" class="n wa"><ellipse cx="716.5" cy="2664" rx="72" ry="24"/><text x="716.5" y="2670">WATER 69</text></g>
<g id="water61" class="n wa"><ellipse cx="716.5" cy="2736" rx="72" ry="24"/><text x="716.5" y="2742">WATER 61</text></g>
<g id="water57" class="n wa"><ellipse cx="716.5" cy="2808" rx="72" ry="24"/><text x="716.5" y="2814">WATER 57</text></g>
<g id="water96" class="n wa"><ellipse cx="716.5" cy="2880" rx="72" ry="24"/><text x="716.5" y="2886">WATER 96</text></g>
<g id="water76" class="n wa"><ellipse cx="716.5" cy="2952" rx="72" ry="24"/><text x="716.5" y="2958">WATER 76</text></g>
<g id="water85" class="n wa"><ellipse cx="716.5" cy="3024" rx="72" ry="24"/><text x="716.5" y="3030">WATER 85</text></g>
<g id="water92" class="n wa"><ellipse cx="716.5" cy="3096" rx="72" ry="24"/><text x="716.5" y="3102">WATER 92</text></g>
<g id="water73" class="n wa"><ellipse cx="716.5" cy="3168" rx="72" ry="24"/><text x="716.5" y="3174">WATER 73</text></g>
<g id="water62" class="n wa"><ellipse cx="716.5" cy="3240" rx="72" ry="24"/><text x="716.5" y="3246">WATER 62</text></g>
</g>

<g id="col-light">
<g id="light123" class="n li"><ellipse cx="910" cy="36" rx="73.5" ry="24"/><text x="910" y="42">LIGHT 123</text></g>
<g id="light109" class="n li"><ellipse cx="910" cy="144" rx="73.5" ry="24"/><text x="910" y="150">LIGHT 109</text></g>
<g id="light117" class="n li"><ellipse cx="910" cy="216" rx="73.5" ry="24"/><text x="910" y="222">LIGHT 117</text></g>
<g id="light99" class="n li"><ellipse cx="910" cy="288" rx="66.5" ry="24"/><text x="910" y="294">LIGHT 99</text></g>
<g id="light114" class="n li"><ellipse cx="910" cy="360" rx="73.5" ry="24"/><text x="910" y="366">LIGHT 114</text></g>
<g id="light100" class="n li"><ellipse cx="910" cy="432" rx="73.5" ry="24"/><text x="910" y="438">LIGHT 100</text></g>
<g id="light133" class="n li"><ellipse cx="910" cy="504" rx="73.5" ry="24"/><text x="910" y="510">LIGHT 133</text></g>
<g id="light124" class="n li"><ellipse cx="910" cy="576" rx="73.5" ry="24"/><text x="910" y="582">LIGHT 124</text></g>
<g id="light110" class="n li"><ellipse cx="910" cy="648" rx="73.5" ry="24"/><text x="910" y="654">LIGHT 110</text></g>
<g id="light120" class="n li"><ellipse cx="910" cy="720" rx="73.5" ry="24"/><text x="910" y="726">LIGHT 120</text></g>
<g id="light104" class="n li"><ellipse cx="910" cy="792" rx="73.5" ry="24"/><text x="910" y="798">LIGHT 104</text></g>
<g id="light105" class="n li"><ellipse cx="910" cy="864" rx="73.5" ry="24"/><text x="910" y="870">LIGHT 105</text></g>
<g id="light135" class="n li"><ellipse cx="910" cy="936" rx="73.5" ry="24"/><text x="910" y="942">LIGHT 135</text></g>
<g id="light125" class="n li"><ellipse cx="910" cy="1008" rx="73.5" ry="24"/><text x="910" y="1014">LIGHT 125</text></g>
<g id="light111" class="n li"><ellipse cx="910" cy="1080" rx="73.5" ry="24"/><text x="910" y="1086">LIGHT 111</text></g>
<g id="light137" class="n li"><ellipse cx="910" cy="1296" rx="73.5" ry="24"/><text x="910" y="1302">LIGHT 137</text></g>
<g id="light108" class="n li"><ellipse cx="910" cy="1368" rx="73.5" ry="24"/><text x="910" y="1374">LIGHT 108</text></g>
<g id="light132" class="n li"><ellipse cx="910" cy="1440" rx="73.5" ry="24"/><text x="910" y="1446">LIGHT 132</text></g>
<g id="light106" class="n li"><ellipse cx="910" cy="1512" rx="73.5" ry="24"/><text x="910" y="1518">LIGHT 106</text></g>
<g id="light121" class="n li"><ellipse cx="910" cy="1584" rx="73.5" ry="24"/><text x="910" y="1590">LIGHT 121</text></g>
<g id="light113" class="n li"><ellipse cx="910" cy="1800" rx="73.5" ry="24"/><text x="910" y="1806">LIGHT 113</text></g>
<g id="light118" class="n li"><ellipse cx="910" cy="1872" rx="73.5" ry="24"/><text x="910" y="1878">LIGHT 118</text></g>
<g id="light136" class="n li"><ellipse cx="910" cy="1944" rx="73.5" ry="24"/><text x="910" y="1950">LIGHT 136</text></g>
<g id="light107" class="n li"><ellipse cx="910" cy="2016" rx="73.5" ry="24"/><text x="910" y="2022">LIGHT 107</text></g>
<g id="light98" class="n li"><ellipse cx="910" cy="2088" rx="66.5" ry="24"/><text x="910" y="2094">LIGHT 98</text></g>
<g id="light122" class="n li"><ellipse cx="910" cy="2160" rx="73.5" ry="24"/><text x="910" y="2166">LIGHT 122</text></g>
<g id="light112" class="n li"><ellipse cx="910" cy="2232" rx="73.5" ry="24"/><text x="910" y="2238">LIGHT 112</text></g>
<g id="light119" class="n li"><ellipse cx="910" cy="2304" rx="73.5" ry="24"/><text x="910" y="2310">LIGHT 119</text></g>
<g id="light115" class="n li"><ellipse cx="910" cy="2376" rx="73.5" ry="24"/><text x="910" y="2382">LIGHT 115</text></g>
<g id="light116" class="n li"><ellipse cx="910" cy="2448" rx="73.5" ry="24"/><text x="910" y="2454">LIGHT 116</text></g>
<g id="light128" class="n li"><ellipse cx="910" cy="2520" rx="73.5" ry="24"/><text x="910" y="2526">LIGHT 128</text></g>
<g id="light134" class="n li"><ellipse cx="910" cy="2592" rx="73.5" ry="24"/><text x="910" y="2598">LIGHT 134</text></g>
<g id="light127" class="n li"><ellipse cx="910" cy="2664" rx="73.5" ry="24"/><text x="910" y="2670">LIGHT 127</text></g>
<g id="light103" class="n li"><ellipse cx="910" cy="2736" rx="73.5" ry="24"/><text x="910" y="2742">LIGHT 103</text></g>
<g id="light102" class="n li"><ellipse cx="910" cy="2808" rx="73.5" ry="24"/><text x="910" y="2814">LIGHT 102</text></g>
<g id="light130" class="n li"><ellipse cx="910" cy="2880" rx="73.5" ry="24"/><text x="910" y="2886">LIGHT 130</text></g>
<g id="light131" class="n li"><ellipse cx="910" cy="2952" rx="73.5" ry="24"/><text x="910" y="2958">LIGHT 131</text></g>
<g id="light101" class="n li"><ellipse cx="910" cy="3024" rx="73.5" ry="24"/><text x="910" y="3030">LIGHT 101</text></g>
<g id="light129" class="n li"><ellipse cx="910" cy="3096" rx="73.5" ry="24"/><text x="910" y="3102">LIGHT 129</text></g>
<g id="light126" class="n li"><ellipse cx="910" cy="3168" rx="73.5" ry="24"/><text x="910" y="3174">LIGHT 126</text></g>
</g>

<g id="col-temperature">
<g id="temp151" class="n te"><ellipse cx="1157" cy="216" rx="125.5" ry="24"/><text x="1157" y="222">TEMPERATURE 151</text></g>
<g id="temp157" class="n te"><ellipse cx="1157" cy="288" rx="125.5" ry="24"/><text x="1157" y="294">TEMPERATURE 157</text></g>
<g id="temp142" class="n te"><ellipse cx="1157" cy="360" rx="125.5" ry="24"/><text x="1157" y="366">TEMPERATURE 142</text></g>
<g id="temp138" class="n te"><ellipse cx="1157" cy="432" rx="125.5" ry="24"/><text x="1157" y="438">TEMPERATURE 138</text></g>
<g id="temp144" class="n te"><ellipse cx="1157" cy="576" rx="125.5" ry="24"/><text x="1157" y="582">TEMPERATURE 144</text></g>
<g id="temp168" class="n te"><ellipse cx="1157" cy="648" rx="125.5" ry="24"/><text x="1157" y="654">TEMPERATURE 168</text></g>
<g id="temp164" class="n te"><ellipse cx="1157" cy="720" rx="125.5" ry="24"/><text x="1157" y="726">TEMPERATURE 164</text></g>
<g id="temp148" class="n te"><ellipse cx="1157" cy="792" rx="125.5" ry="24"/><text x="1157" y="798">TEMPERATURE 148</text></g>
<g id="temp159" class="n te"><ellipse cx="1157" cy="864" rx="125.5" ry="24"/><text x="1157" y="870">TEMPERATURE 159</text></g>
<g id="temp154" class="n te"><ellipse cx="1157" cy="936" rx="125.5" ry="24"/><text x="1157" y="942">TEMPERATURE 154</text></g>
<g id="temp150" class="n te"><ellipse cx="1157" cy="1008" rx="125.5" ry="24"/><text x="1157" y="1014">TEMPERATURE 150</text></g>
<g id="temp171" class="n te"><ellipse cx="1157" cy="1080" rx="125.5" ry="24"/><text x="1157" y="1086">TEMPERATURE 171</text></g>
<g id="temp147" class="n te"><ellipse cx="1157" cy="1152" rx="125.5" ry="24"/><text x="1157" y="1158">TEMPERATURE 147</text></g>
<g id="temp146" class="n te"><ellipse cx="1157" cy="1224" rx="125.5" ry="24"/><text x="1157" y="1230">TEMPERATURE 146</text></g>
<g id="temp169" class="n te"><ellipse cx="1157" cy="1296" rx="125.5" ry="24"/><text x="1157" y="1302">TEMPERATURE 169</text></g>
<g id="temp143" class="n te"><ellipse cx="1157" cy="1368" rx="125.5" ry="24"/><text x="1157" y="1374">TEMPERATURE 143</text></g>
<g id="temp141" class="n te"><ellipse cx="1157" cy="1440" rx="125.5" ry="24"/><text x="1157" y="1446">TEMPERATURE 141</text></g>
<g id="temp153" class="n te"><ellipse cx="1157" cy="1512" rx="125.5" ry="24"/><text x="1157" y="1518">TEMPERATURE 153</text></g>
<g id="temp162" class="n te"><ellipse cx="1157" cy="1584" rx="125.5" ry="24"/><text x="1157" y="1590">TEMPERATURE 162</text></g>
<g id="temp161" class="n te"><ellipse cx="1157" cy="1656" rx="125.5" ry="24"/><text x="1157" y="1662">TEMPERATURE 161</text></g>
<g id="temp152" class="n te"><ellipse cx="1157" cy="1728" rx="125.5" ry="24"/><text x="1157" y="1734">TEMPERATURE 152</text></g>
<g id="temp139" class="n te"><ellipse cx="1157" cy="1800" rx="125.5" ry="24"/><text x="1157" y="1806">TEMPERATURE 139</text></g>
<g id="temp149" class="n te"><ellipse cx="1157" cy="1872" rx="125.5" ry="24"/><text x="1157" y="1878">TEMPERATURE 149</text></g>
<g id="temp167" class="n te"><ellipse cx="1157" cy="1944" rx="125.5" ry="24"/><text x="1157" y="1950">TEMPERATURE 167</text></g>
<g id="temp174" class="n te"><ellipse cx="1157" cy="2016" rx="125.5" ry="24"/><text x="1157" y="2022">TEMPERATURE 174</text></g>
<g id="temp172" class="n te"><ellipse cx="1157" cy="2088" rx="125.5" ry="24"/><text x="1157" y="2094">TEMPERATURE 172</text></g>
<g id="temp158" class="n te"><ellipse cx="1157" cy="2160" rx="125.5" ry="24"/><text x="1157" y="2166">TEMPERATURE 158</text></g>
<g id="temp160" class="n te"><ellipse cx="1157" cy="2232" rx="125.5" ry="24"/><text x="1157" y="2238">TEMPERATURE 160</text></g>
<g id="temp140" class="n te"><ellipse cx="1157" cy="2304" rx="125.5" ry="24"/><text x="1157" y="2310">TEMPERATURE 140</text></g>
<g id="temp166" class="n te"><ellipse cx="1157" cy="2376" rx="125.5" ry="24"/><text x="1157" y="2382">TEMPERATURE 166</text></g>
<g id="temp173" class="n te"><ellipse cx="1157" cy="2448" rx="125.5" ry="24"/><text x="1157" y="2454">TEMPERATURE 173</text></g>
<g id="temp145" class="n te"><ellipse cx="1157" cy="2520" rx="125.5" ry="24"/><text x="1157" y="2526">TEMPERATURE 145</text></g>
<g id="temp156" class="n te"><ellipse cx="1157" cy="2592" rx="125.5" ry="24"/><text x="1157" y="2598">TEMPERATURE 156</text></g>
<g id="temp170" class="n te"><ellipse cx="1157" cy="2664" rx="125.5" ry="24"/><text x="1157" y="2670">TEMPERATURE 170</text></g>
<g id="temp155" class="n te"><ellipse cx="1157" cy="2736" rx="125.5" ry="24"/><text x="1157" y="2742">TEMPERATURE 155</text></g>
<g id="temp163" class="n te"><ellipse cx="1157" cy="2808" rx="125.5" ry="24"/><text x="1157" y="2814">TEMPERATURE 163</text></g>
<g id="temp165" class="n te"><ellipse cx="1157" cy="2952" rx="125.5" ry="24"/><text x="1157" y="2958">TEMPERATURE 165</text></g>
</g>

<g id="col-humidity">
<g id="hum177" class="n hu"><ellipse cx="1430" cy="360" rx="99" ry="24"/><text x="1430" y="366">HUMIDITY 177</text></g>
<g id="hum178" class="n hu"><ellipse cx="1430" cy="432" rx="99" ry="24"/><text x="1430" y="438">HUMIDITY 178</text></g>
<g id="hum185" class="n hu"><ellipse cx="1430" cy="864" rx="99" ry="24"/><text x="1430" y="870">HUMIDITY 185</text></g>
<g id="hum192" class="n hu"><ellipse cx="1430" cy="1152" rx="99" ry="24"/><text x="1430" y="1158">HUMIDITY 192</text></g>
<g id="hum181" class="n hu"><ellipse cx="1430" cy="1404" rx="99" ry="24"/><text x="1430" y="1410">HUMIDITY 181</text></g>
<g id="hum187" class="n hu"><ellipse cx="1430" cy="1656" rx="99" ry="24"/><text x="1430" y="1662">HUMIDITY 187</text></g>
<g id="hum175" class="n hu"><ellipse cx="1430" cy="1800" rx="99" ry="24"/><text x="1430" y="1806">HUMIDITY 175</text></g>
<g id="hum179" class="n hu"><ellipse cx="1430" cy="1872" rx="99" ry="24"/><text x="1430" y="1878">HUMIDITY 179</text></g>
<g id="hum180" class="n hu"><ellipse cx="1430" cy="1944" rx="99" ry="24"/><text x="1430" y="1950">HUMIDITY 180</text></g>
<g id="hum188" class="n hu"><ellipse cx="1430" cy="2016" rx="99" ry="24"/><text x="1430" y="2022">HUMIDITY 188</text></g>
<g id="hum189" class="n hu"><ellipse cx="1430" cy="2088" rx="99" ry="24"/><text x="1430" y="2094">HUMIDITY 189</text></g>
<g id="hum191" class="n hu"><ellipse cx="1430" cy="2160" rx="99" ry="24"/><text x="1430" y="2166">HUMIDITY 191</text></g>
<g id="hum183" class="n hu"><ellipse cx="1430" cy="2232" rx="99" ry="24"/><text x="1430" y="2238">HUMIDITY 183</text></g>
<g id="hum176" class="n hu"><ellipse cx="1430" cy="2304" rx="99" ry="24"/><text x="1430" y="2310">HUMIDITY 176</text></g>
<g id="hum182" class="n hu"><ellipse cx="1430" cy="2376" rx="99" ry="24"/><text x="1430" y="2382">HUMIDITY 182</text></g>
<g id="hum186" class="n hu"><ellipse cx="1430" cy="2448" rx="99" ry="24"/><text x="1430" y="2454">HUMIDITY 186</text></g>
<g id="hum184" class="n hu"><ellipse cx="1430" cy="2520" rx="99" ry="24"/><text x="1430" y="2526">HUMIDITY 184</text></g>
<g id="hum190" class="n hu"><ellipse cx="1430" cy="2700" rx="99" ry="24"/><text x="1430" y="2706">HUMIDITY 190</text></g>
</g>

<g id="col-location">
<g id="loc225" class="n lo"><ellipse cx="1676" cy="144" rx="98" ry="24"/><text x="1676" y="150">LOCATION 225</text></g>
<g id="loc229" class="n lo"><ellipse cx="1676" cy="216" rx="98" ry="24"/><text x="1676" y="222">LOCATION 229</text></g>
<g id="loc221" class="n lo"><ellipse cx="1676" cy="288" rx="98" ry="24"/><text x="1676" y="294">LOCATION 221</text></g>
<g id="loc218" class="n lo"><ellipse cx="1676" cy="360" rx="98" ry="24"/><text x="1676" y="366">LOCATION 218</text></g>
<g id="loc226" class="n lo"><ellipse cx="1676" cy="432" rx="98" ry="24"/><text x="1676" y="438">LOCATION 226</text></g>
<g id="loc196" class="n lo"><ellipse cx="1676" cy="504" rx="98" ry="24"/><text x="1676" y="510">LOCATION 196</text></g>
<g id="loc228" class="n lo"><ellipse cx="1676" cy="576" rx="98" ry="24"/><text x="1676" y="582">LOCATION 228</text></g>
<g id="loc227" class="n lo"><ellipse cx="1676" cy="648" rx="98" ry="24"/><text x="1676" y="654">LOCATION 227</text></g>
<g id="loc210" class="n lo"><ellipse cx="1676" cy="720" rx="98" ry="24"/><text x="1676" y="726">LOCATION 210</text></g>
<g id="loc212" class="n lo"><ellipse cx="1676" cy="792" rx="98" ry="24"/><text x="1676" y="798">LOCATION 212</text></g>
<g id="loc215" class="n lo"><ellipse cx="1676" cy="864" rx="98" ry="24"/><text x="1676" y="870">LOCATION 215</text></g>
<g id="loc216" class="n lo"><ellipse cx="1676" cy="936" rx="98" ry="24"/><text x="1676" y="942">LOCATION 216</text></g>
<g id="loc222" class="n lo"><ellipse cx="1676" cy="1008" rx="98" ry="24"/><text x="1676" y="1014">LOCATION 222</text></g>
<g id="loc223" class="n lo"><ellipse cx="1676" cy="1080" rx="98" ry="24"/><text x="1676" y="1086">LOCATION 223</text></g>
<g id="loc195" class="n lo"><ellipse cx="1676" cy="1152" rx="98" ry="24"/><text x="1676" y="1158">LOCATION 195</text></g>
<g id="loc204" class="n lo"><ellipse cx="1676" cy="1224" rx="98" ry="24"/><text x="1676" y="1230">LOCATION 204</text></g>
<g id="loc206" class="n lo"><ellipse cx="1676" cy="1296" rx="98" ry="24"/><text x="1676" y="1302">LOCATION 206</text></g>
<g id="loc231" class="n lo"><ellipse cx="1676" cy="1368" rx="98" ry="24"/><text x="1676" y="1374">LOCATION 231</text></g>
<g id="loc193" class="n lo"><ellipse cx="1676" cy="1440" rx="98" ry="24"/><text x="1676" y="1446">LOCATION 193</text></g>
<g id="loc199" class="n lo"><ellipse cx="1676" cy="1512" rx="98" ry="24"/><text x="1676" y="1518">LOCATION 199</text></g>
<g id="loc214" class="n lo"><ellipse cx="1676" cy="1584" rx="98" ry="24"/><text x="1676" y="1590">LOCATION 214</text></g>
<g id="loc200" class="n lo"><ellipse cx="1676" cy="1656" rx="98" ry="24"/><text x="1676" y="1662">LOCATION 200</text></g>
<g id="loc209" class="n lo"><ellipse cx="1676" cy="1728" rx="98" ry="24"/><text x="1676" y="1734">LOCATION 209</text></g>
<g id="loc211" class="n lo"><ellipse cx="1676" cy="1800" rx="98" ry="24"/><text x="1676" y="1806">LOCATION 211</text></g>
<g id="loc213" class="n lo"><ellipse cx="1676" cy="1872" rx="98" ry="24"/><text x="1676" y="1878">LOCATION 213</text></g>
<g id="loc234" class="n lo"><ellipse cx="1676" cy="1944" rx="98" ry="24"/><text x="1676" y="1950">LOCATION 234</text></g>
<g id="loc230" class="n lo"><ellipse cx="1676" cy="2016" rx="98" ry="24"/><text x="1676" y="2022">LOCATION 230</text></g>
<g id="loc202" class="n lo"><ellipse cx="1676" cy="2088" rx="98" ry="24"/><text x="1676" y="2094">LOCATION 202</text></g>
<g id="loc203" class="n lo"><ellipse cx="1676" cy="2160" rx="98" ry="24"/><text x="1676" y="2166">LOCATION 203</text></g>
<g id="loc217" class="n lo"><ellipse cx="1676" cy="2232" rx="98" ry="24"/><text x="1676" y="2238">LOCATION 217</text></g>
<g id="loc207" class="n lo"><ellipse cx="1676" cy="2304" rx="98" ry="24"/><text x="1676" y="2310">LOCATION 207</text></g>
<g id="loc232" class="n lo"><ellipse cx="1676" cy="2376" rx="98" ry="24"/><text x="1676" y="2382">LOCATION 232</text></g>
<g id="loc197" class="n lo"><ellipse cx="1676" cy="2448" rx="98" ry="24"/><text x="1676" y="2454">LOCATION 197</text></g>
<g id="loc194" class="n lo"><ellipse cx="1676" cy="2520" rx="98" ry="24"/><text x="1676" y="2526">LOCATION 194</text></g>
<g id="loc224" class="n lo"><ellipse cx="1676" cy="2592" rx="98" ry="24"/><text x="1676" y="2598">LOCATION 224</text></g>
<g id="loc233" class="n lo"><ellipse cx="1676" cy="2664" rx="98" ry="24"/><text x="1676" y="2670">LOCATION 233</text></g>
<g id="loc198" class="n lo"><ellipse cx="1676" cy="2736" rx="98" ry="24"/><text x="1676" y="2742">LOCATION 198</text></g>
<g id="loc201" class="n lo"><ellipse cx="1676" cy="2808" rx="98" ry="24"/><text x="1676" y="2814">LOCATION 201</text></g>
<g id="loc205" class="n lo"><ellipse cx="1676" cy="2880" rx="98" ry="24"/><text x="1676" y="2886">LOCATION 205</text></g>
<g id="loc208" class="n lo"><ellipse cx="1676" cy="2952" rx="98" ry="24"/><text x="1676" y="2958">LOCATION 208</text></g>
<g id="loc219" class="n lo"><ellipse cx="1676" cy="3024" rx="98" ry="24"/><text x="1676" y="3030">LOCATION 219</text></g>
</g>
</g>
</svg>
